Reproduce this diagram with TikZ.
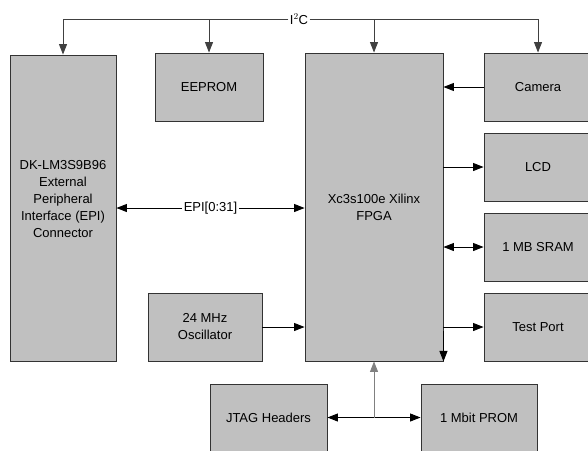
\documentclass[tikz,border=0pt]{standalone}
\usepackage{fontspec}
\setmainfont{Liberation Sans}
\usetikzlibrary{arrows.meta}
\definecolor{boxgray}{RGB}{192,192,192}
\tikzset{
	blk/.style={draw=black!80, fill=boxgray, inner sep=0pt, align=center,
		font=\fontsize{13}{17}\selectfont},
	txt/.style={inner sep=0pt, align=center, font=\fontsize{13}{17}\selectfont},
	lbl/.style={fill=white, inner sep=1.5pt, font=\fontsize{13}{15}\selectfont},
	arr/.style={-{Triangle[length=10.5pt,width=8pt]}},
	darr/.style={{Triangle[length=10.5pt,width=8pt]}-{Triangle[length=10.5pt,width=8pt]}},
}
\begin{document}
\begin{tikzpicture}[x=1pt,y=-1pt,line width=0.9pt]

	\useasboundingbox (0,0) rectangle (588,450);

	% blocks
	\node[blk, minimum width=106pt, minimum height=306pt] (dk) at (63,208) {};
	\node[txt] (dktext) at ([yshift=9pt]dk.center) {DK-LM3S9B96\\External\\Peripheral\\Interface (EPI)\\Connector};
	\node[blk, minimum width=108pt, minimum height=68pt] (eeprom) at (209,87) {EEPROM};
	\node[blk, minimum width=138pt, minimum height=308pt] (fpga) at (374,207) {Xc3s100e Xilinx\\FPGA};
	\node[blk, minimum width=108pt, minimum height=68pt] (cam) at (538,87) {Camera};
	\node[blk, minimum width=108pt, minimum height=68pt] (lcd) at (538,167) {LCD};
	\node[blk, minimum width=108pt, minimum height=68pt] (sram) at (538,247) {1 MB SRAM};
	\node[blk, minimum width=108pt, minimum height=68pt] (test) at (538,327) {Test Port};
	\node[blk, minimum width=114pt, minimum height=68pt] (osc) at (205,327) {24 MHz\\Oscillator};
	\node[blk, minimum width=117pt, minimum height=67pt] (jtag) at (268.5,417.5) {JTAG Headers};
	\node[blk, minimum width=116pt, minimum height=67pt] (prom) at (479,417.5) {1 Mbit PROM};

	% I2C bus
	\node[lbl, inner sep=1pt] (i2c) at (299,19) {I$^2$C};
	\draw[arr, black!75] (i2c.west) -| (dk.north);
	\draw[arr, black!75] (i2c.east) -| (cam.north);
	\draw[arr, black!75] (eeprom.north |- i2c) -- (eeprom.north);
	\draw[arr, black!75] (fpga.north |- i2c) -- (fpga.north);

	% EPI
	\draw[darr] (dk.east) -- node[lbl] {EPI[0:31]} (fpga.west |- dk.east);

	% right side
	\draw[arr] (cam.west) -- (fpga.east |- cam.west);
	\draw[arr] (fpga.east |- lcd.west) -- (lcd.west);
	\draw[darr] (fpga.east |- sram.west) -- (sram.west);
	\draw[arr] (fpga.east |- test.west) -- (test.west);
	\draw[arr] ([yshift=30pt]fpga.south east) -- (fpga.south east);

	% oscillator
	\draw[arr] (osc.east) -- (fpga.west |- osc.east);

	% JTAG / PROM
	\draw[darr] (jtag.east) -- (prom.west);
	\draw[arr, gray] (fpga.south |- jtag.east) -- (fpga.south);

\end{tikzpicture}
\end{document}
